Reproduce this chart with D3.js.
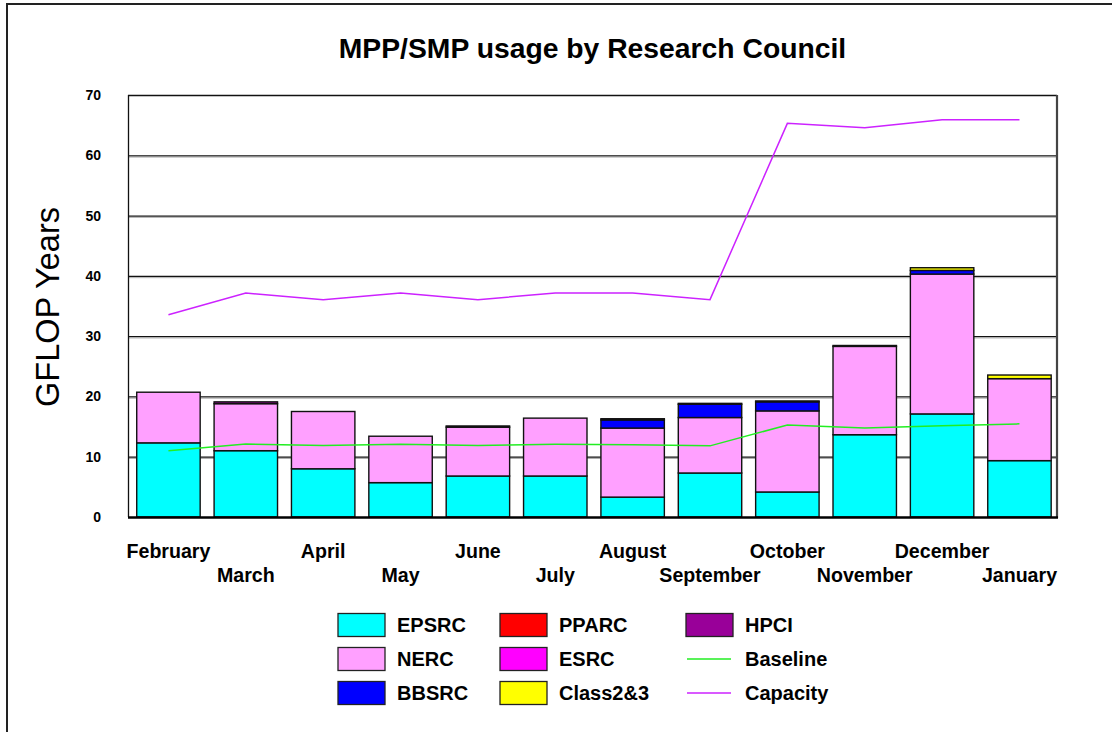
<!DOCTYPE html>
<html><head><meta charset="utf-8">
<script src="https://cdn.jsdelivr.net/npm/d3@7"></script>
<style>
html,body{margin:0;padding:0;background:#fff;}
svg{display:block;font-family:"Liberation Sans",Arial,Helvetica,sans-serif;}
</style></head>
<body>
<svg id="chart" width="1112" height="732"></svg>
<script>
const months = ["February","March","April","May","June","July","August","September","October","November","December","January"];
const EPSRC    = [12.3, 11.0, 8.0, 5.7, 6.8, 6.8, 3.3, 7.3, 4.15, 13.65, 17.1, 9.35];
const NERC     = [8.4, 7.8, 9.5, 7.7, 8.1, 9.6, 11.45, 9.2, 13.45, 14.65, 23.2, 13.6];
const BBSRC    = [0, 0, 0, 0, 0, 0, 1.35, 2.2, 1.5, 0, 0.6, 0];
const PPARC    = [0, 0, 0, 0, 0, 0, 0, 0, 0, 0, 0, 0];
const ESRC     = [0, 0, 0, 0, 0, 0, 0, 0, 0, 0, 0, 0];
const Class23  = [0, 0, 0, 0, 0, 0, 0, 0, 0, 0, 0.45, 0.6];
const HPCI     = [0, 0.3, 0, 0, 0.2, 0, 0.2, 0.15, 0.15, 0.15, 0, 0];
const Baseline = [11.0, 12.1, 11.85, 12.05, 11.85, 12.05, 12.0, 11.8, 15.25, 14.75, 15.15, 15.45];
const Capacity = [33.55, 37.15, 36.05, 37.15, 36.05, 37.15, 37.15, 36.05, 65.3, 64.55, 65.9, 65.9];
const yTicks = [0, 10, 20, 30, 40, 50, 60, 70];

const seriesNames = ["EPSRC","NERC","BBSRC","PPARC","ESRC","Class2&3","HPCI"];
const seriesData = [EPSRC, NERC, BBSRC, PPARC, ESRC, Class23, HPCI];
const seriesColors = ["#00ffff","#ffa0ff","#0000ff","#ff0000","#ff00ff","#ffff00","#990099"];

const svg = d3.select("#chart");
const M = {left:128, right:1057, top:95, bottom:517};

// outer frame
svg.append("path").attr("d","M7,733 L7,4 L1113,4").attr("fill","none").attr("stroke","#222").attr("stroke-width",2);

const x = d3.scaleBand().domain(months).range([M.left, M.right]).paddingInner(0.18).paddingOuter(0.094).align(0.6);
const y = d3.scaleLinear().domain([0,70]).range([M.bottom, M.top]);

// title
svg.append("text").attr("x",(M.left+M.right)/2).attr("y",58).attr("text-anchor","middle")
  .attr("font-size",28.3).attr("font-weight","bold").text("MPP/SMP usage by Research Council");

// gridlines
svg.append("g").selectAll("line").data(yTicks.filter(d=>d>0 && d<70)).join("line")
  .attr("x1",M.left).attr("x2",M.right).attr("y1",d=>y(d)+0.5).attr("y2",d=>y(d)+0.5)
  .attr("stroke","#111").attr("stroke-width",1.3);
svg.append("g").selectAll("line").data(yTicks.filter(d=>d>0 && d<70)).join("line")
  .attr("x1",M.left).attr("x2",M.right).attr("y1",d=>y(d)+1.8).attr("y2",d=>y(d)+1.8)
  .attr("stroke","#999").attr("stroke-width",0.8);

// plot frame
svg.append("line").attr("x1",M.left).attr("x2",M.right).attr("y1",M.top+0.5).attr("y2",M.top+0.5).attr("stroke","#111").attr("stroke-width",1.3);
svg.append("line").attr("x1",M.left+0.5).attr("x2",M.left+0.5).attr("y1",M.top).attr("y2",M.bottom).attr("stroke","#111").attr("stroke-width",1.3);
svg.append("line").attr("x1",M.right).attr("x2",M.right).attr("y1",M.top).attr("y2",M.bottom+1).attr("stroke","#444").attr("stroke-width",2.2);

// y tick labels
svg.append("g").selectAll("text").data(yTicks).join("text")
  .attr("x",101).attr("y",d=>y(d)).attr("dy","0.36em").attr("text-anchor","end")
  .attr("font-size",14).attr("font-weight","bold").text(d=>d);

// y axis title
svg.append("text").attr("transform","translate(59,307) rotate(-90)").attr("text-anchor","middle")
  .attr("font-size",32.5).text("GFLOP Years");

// stacked bars
const rows = months.map((m,i)=>{const o={month:m}; seriesNames.forEach((s,k)=>o[s]=seriesData[k][i]); return o;});
const stack = d3.stack().keys(seriesNames)(rows);
stack.forEach((layer,k)=>{
  svg.append("g").selectAll("rect").data(layer.filter(d=>d[1]-d[0]>0)).join("rect")
    .attr("x",d=>x(d.data.month)).attr("width",x.bandwidth())
    .attr("y",d=>y(d[1])).attr("height",d=>y(d[0])-y(d[1]))
    .attr("fill",seriesColors[k]).attr("stroke","#111").attr("stroke-width",1.4);
});

// bottom axis line
svg.append("line").attr("x1",M.left).attr("x2",M.right+1).attr("y1",M.bottom+0.5).attr("y2",M.bottom+0.5).attr("stroke","#000").attr("stroke-width",2.5);

// lines
const line = d3.line().x((d,i)=>x(months[i])+x.bandwidth()/2).y(d=>y(d));
svg.append("path").attr("d",line(Baseline)).attr("fill","none").attr("stroke","#22ee22").attr("stroke-width",1.5);
svg.append("path").attr("d",line(Capacity)).attr("fill","none").attr("stroke","#cc22ff").attr("stroke-width",1.5);

// x labels (staggered)
svg.append("g").selectAll("text").data(months).join("text")
  .attr("x",d=>x(d)+x.bandwidth()/2).attr("y",(d,i)=>i%2===0?558:582)
  .attr("text-anchor","middle").attr("font-size",19.6).attr("font-weight","bold").text(d=>d);

// legend
const legendItems = [
  {name:"EPSRC", type:"box", color:seriesColors[0], col:0, row:0},
  {name:"NERC", type:"box", color:seriesColors[1], col:0, row:1},
  {name:"BBSRC", type:"box", color:seriesColors[2], col:0, row:2},
  {name:"PPARC", type:"box", color:seriesColors[3], col:1, row:0},
  {name:"ESRC", type:"box", color:seriesColors[4], col:1, row:1},
  {name:"Class2&3", type:"box", color:seriesColors[5], col:1, row:2},
  {name:"HPCI", type:"box", color:seriesColors[6], col:2, row:0},
  {name:"Baseline", type:"line", color:"#22ee22", col:2, row:1},
  {name:"Capacity", type:"line", color:"#cc22ff", col:2, row:2}
];
const colX = [338, 500, 686];
const rowY = [625, 659, 693];
const lg = svg.append("g").selectAll("g").data(legendItems).join("g")
  .attr("transform",d=>`translate(${colX[d.col]},${rowY[d.row]})`);
lg.filter(d=>d.type==="box").append("rect").attr("x",0).attr("y",-11.5).attr("width",47).attr("height",23)
  .attr("fill",d=>d.color).attr("stroke","#222").attr("stroke-width",1.3);
lg.filter(d=>d.type==="line").append("line").attr("x1",1).attr("x2",45).attr("y1",0).attr("y2",0)
  .attr("stroke",d=>d.color).attr("stroke-width",1.5);
lg.append("text").attr("x",59).attr("y",0).attr("dy","0.36em").attr("font-size",20).attr("font-weight","bold").text(d=>d.name);
</script>
</body></html>
